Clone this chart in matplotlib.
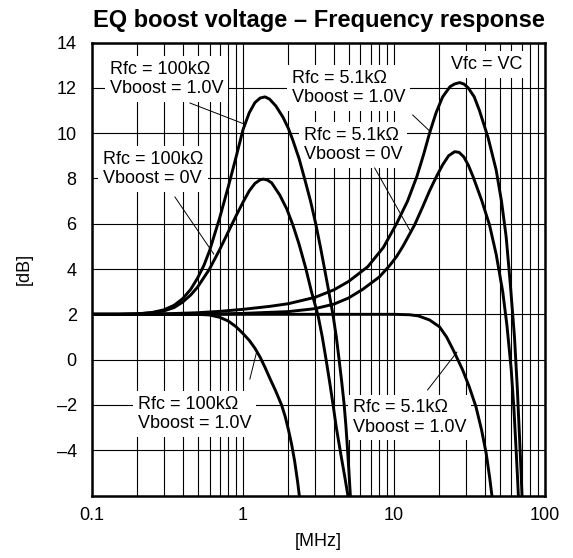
import matplotlib

matplotlib.use("Agg")
import matplotlib.pyplot as plt  # noqa: E402
from matplotlib.ticker import FixedLocator, LogLocator, NullFormatter  # noqa: E402

plt.rcParams["font.family"] = ["Liberation Sans", "DejaVu Sans"]

# values (frequency in MHz, gain in dB)
a_freq = [0.1, 0.15, 0.2, 0.25, 0.3, 0.35, 0.4, 0.45, 0.5, 0.55, 0.6, 0.7, 0.8, 0.9, 1.0, 1.1, 1.2, 1.3,
          1.4, 1.5, 1.65, 1.84, 2.0, 2.14, 2.35, 2.56, 2.8, 3.03, 3.25, 3.47, 3.7, 3.95, 4.15, 4.32, 4.5,
          4.67, 4.8, 4.91, 5.03, 5.14, 5.25]
a_db = [2.0, 2.0, 2.02, 2.08, 2.2, 2.4, 2.7, 3.1, 3.6, 4.15, 4.8, 6.25, 7.65, 8.95, 10.15, 10.9, 11.35, 11.55,
        11.6, 11.5, 11.2, 10.7, 10.2, 9.68, 8.88, 7.98, 7.0, 6.0, 5.0, 4.0, 3.0, 1.95, 1.0, 0.05, -0.95,
        -1.95, -2.9, -3.85, -4.95, -6.0, -7.1]

b_freq = [0.1, 0.15, 0.2, 0.25, 0.3, 0.35, 0.4, 0.45, 0.5, 0.6, 0.7, 0.8, 0.9, 1.0, 1.1, 1.2, 1.3, 1.36,
          1.45, 1.55, 1.75, 1.95, 2.14, 2.35, 2.6, 2.84, 3.14, 3.35, 3.55, 3.75, 3.95, 4.15, 4.45, 4.7,
          4.95, 5.1]
b_db = [2.0, 2.0, 2.02, 2.07, 2.15, 2.3, 2.55, 2.85, 3.2, 4.0, 4.85, 5.65, 6.35, 6.95, 7.45, 7.78, 7.94, 7.97,
        7.93, 7.8, 7.27, 6.65, 5.94, 5.1, 4.05, 3.0, 1.95, 1.0, 0.0, -1.0, -2.0, -3.0, -4.2, -5.1,
        -6.0, -6.7]

c_freq = [0.1, 0.3, 0.5, 0.6, 0.7, 0.8, 0.9, 1.0, 1.1, 1.2, 1.3, 1.4, 1.5, 1.65, 1.8, 1.9, 2.0, 2.1,
          2.2, 2.3, 2.38, 2.45]
c_db = [2.0, 2.0, 2.0, 1.97, 1.87, 1.7, 1.45, 1.15, 0.85, 0.5, 0.1, -0.35, -0.8, -1.4, -2.0, -2.5, -3.1,
        -3.75, -4.5, -5.4, -6.2, -7.0]

d_freq = [0.1, 0.2, 0.3, 0.5, 0.7, 1.0, 1.5, 2.0, 3.0, 4.0, 5.0, 6.7, 8.5, 10.4, 12.3, 14.2, 15.7, 17.2,
          19.0, 21.0, 23.5, 25.2, 27.2, 29.0, 31.0, 34.0, 36.8, 42.0, 47.5, 51.5, 55.3, 59.0, 62.8,
          65.5, 67.8, 69.5, 71.0]
d_db = [2.0, 2.0, 2.02, 2.07, 2.13, 2.22, 2.35, 2.47, 2.75, 3.08, 3.45, 4.1, 4.95, 6.0, 7.0, 8.1, 9.05, 10.0,
        10.9, 11.6, 12.05, 12.17, 12.23, 12.17, 12.0, 11.6, 11.0, 9.8, 8.37, 7.0, 5.43, 3.3, 1.0,
        -1.2, -3.4, -5.0, -6.6]

e_freq = [0.1, 0.5, 1.0, 2.0, 3.0, 4.0, 5.0, 6.2, 8.0, 9.35, 10.4, 11.5, 13.7, 15.5, 17.2, 19.0, 21.0,
          23.0, 25.2, 27.0, 29.0, 31.0, 33.3, 38.0, 42.9, 47.5, 52.5, 56.0, 59.7, 62.3, 64.4, 66.0, 67.5]
e_db = [2.0, 2.0, 2.04, 2.12, 2.25, 2.45, 2.72, 3.1, 3.65, 4.15, 4.55, 5.02, 5.95, 6.75, 7.45, 8.05, 8.6,
        9.0, 9.18, 9.15, 8.95, 8.6, 8.1, 7.05, 5.95, 4.65, 3.0, 1.5, -0.4, -2.2, -4.0, -5.4, -6.8]

f_freq = [0.1, 1.0, 5.0, 10.0, 12.7, 14.5, 17.2, 20.0, 22.3, 25.0, 28.5, 31.5, 34.9, 38.0, 40.8, 43.0,
          44.7, 46.0]
f_db = [2.0, 2.0, 2.0, 2.0, 1.98, 1.93, 1.75, 1.45, 1.0, 0.35, -0.46, -1.2, -2.08, -3.1, -4.14, -5.2,
        -6.1, -7.0]

curves = [(a_freq, a_db), (b_freq, b_db), (c_freq, c_db), (d_freq, d_db), (e_freq, e_db), (f_freq, f_db)]

x_ticks = [0.1, 1, 10, 100]
x_tick_labels = ["0.1", "1", "10", "100"]
y_ticks = [-6, -4, -2, 0, 2, 4, 6, 8, 10, 12, 14]
y_tick_labels = ["", "\u20134", "\u20132", "0", "2", "4", "6", "8", "10", "12", "14"]

# (text, text anchor, leader start, leader end on curve)
labels = [
    ("Rfc = 100k\u03a9\nVboost = 1.0V", (0.1315, 12.39), (0.445, 11.33), (1.02, 10.4)),
    ("Rfc = 100k\u03a9\nVboost = 0V", (0.118, 8.42), (0.354, 7.18), (0.64, 4.66)),
    ("Rfc = 5.1k\u03a9\nVboost = 1.0V", (2.10, 11.99), (13.3, 10.8), (17.5, 10.05)),
    ("Rfc = 5.1k\u03a9\nVboost = 0V", (2.52, 9.47), (7.45, 8.46), (12.7, 5.72)),
    ("Vfc = VC", (24.0, 13.03), None, None),
    ("Rfc = 100k\u03a9\nVboost = 1.0V", (0.2015, -2.40), (1.11, -0.86), (1.23, 0.33)),
    ("Rfc = 5.1k\u03a9\nVboost = 1.0V", (5.32, -2.56), (16.7, -1.34), (26.1, 0.33)),
]

fig = plt.figure(figsize=(5.73, 5.58), dpi=100)
ax = fig.add_axes([0.1606, 0.112, 0.7905, 0.8118])

for freq, db in curves:
    ax.plot(freq, db, color="black", lw=2.1, zorder=3, solid_joinstyle="round")

for text, pos, start, end in labels:
    ax.text(pos[0], pos[1], text, ha="left", va="center", fontsize=13, linespacing=1.2, zorder=2,
            bbox=dict(boxstyle="square,pad=0.25", facecolor="white", edgecolor="none"))
    if start is not None:
        ax.plot([start[0], end[0]], [start[1], end[1]], color="black", lw=0.7, zorder=2.5)

ax.set_xscale("log")
ax.set_xlim(0.1, 100)
ax.set_ylim(-6, 14)
ax.xaxis.set_major_locator(FixedLocator(x_ticks))
ax.set_xticklabels(x_tick_labels)
ax.xaxis.set_minor_locator(LogLocator(base=10, subs=range(2, 10)))
ax.xaxis.set_minor_formatter(NullFormatter())
ax.set_yticks(y_ticks)
ax.set_yticklabels(y_tick_labels)
ax.tick_params(which="both", length=0, labelsize=13)
ax.tick_params(axis="y", pad=11)
ax.tick_params(axis="x", pad=8)

ax.set_axisbelow(True)
ax.grid(which="both", axis="x", color="black", lw=0.8)
ax.grid(which="major", axis="y", color="black", lw=0.8)
for sp in ax.spines.values():
    sp.set_linewidth(1.8)

ax.set_title("EQ boost voltage \u2013 Frequency response", fontsize=17, fontweight="bold", pad=11)
ax.set_xlabel("[MHz]", fontsize=13)
ax.set_ylabel("[dB]", fontsize=13)
ax.xaxis.set_label_coords(0.5, -0.083)
ax.yaxis.set_label_coords(-0.13, 0.5)

fig.savefig("out.png", dpi=100)
plt.close(fig)
